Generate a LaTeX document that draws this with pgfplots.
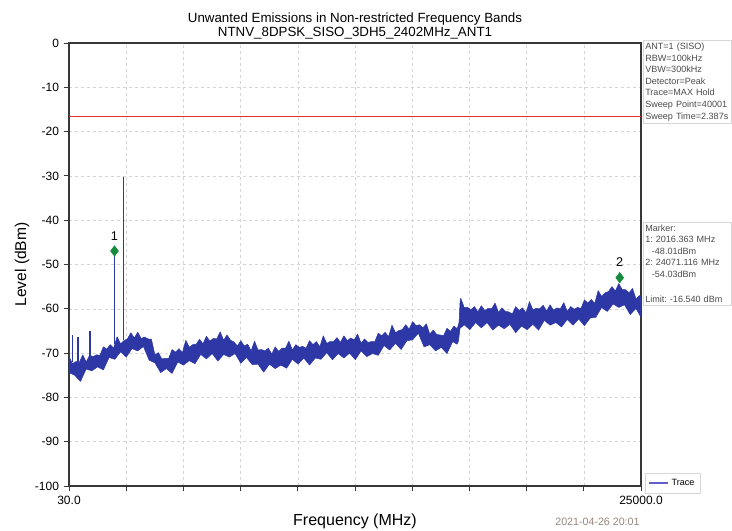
\documentclass[border=0pt]{standalone}
\usepackage{pgfplots}
\pgfplotsset{compat=1.18}
\usepackage{fontspec}
\setmainfont{Liberation Sans}
\frenchspacing

\definecolor{traceblue}{RGB}{45,55,165}
\definecolor{legendline}{RGB}{100,95,200}
\definecolor{limitred}{RGB}{230,45,45}
\definecolor{markgreen}{RGB}{20,140,60}
\definecolor{axisgray}{RGB}{55,55,55}
\definecolor{gridgray}{RGB}{212,212,212}
\definecolor{boxgray}{RGB}{215,215,215}
\definecolor{infogray}{RGB}{75,75,75}
\definecolor{stampgray}{RGB}{150,135,125}

\begin{document}
\begin{tikzpicture}
% page = 732 x 531 px at 0.75pt per px, axis box at px (69..641, 43..486)
\useasboundingbox (-51.75pt,-33.75pt) rectangle (497.25pt,364.5pt);
\begin{axis}[
  at={(0pt,0pt)}, anchor=south west,
  scale only axis, width=429pt, height=332.25pt,
  xmin=30, xmax=25000, ymin=-100, ymax=0,
  clip mode=individual,
  xtick={30,2527,5024,7521,10018,12515,15012,17509,20006,22503,25000},
  xticklabels={30.0,,,,,,,,,,25000.0},
  ytick={-100,-90,...,0},
  tick pos=left, tick align=outside, major tick length=4pt,
  tick style={color=axisgray, line width=0.6pt},
  axis line style={color=axisgray, line width=0.8pt},
  grid=major,
  major grid style={gridgray, dash pattern=on 2.5pt off 2pt, line width=0.4pt},
  ticklabel style={font=\fontsize{9}{10}\selectfont},
  /pgf/number format/assume math mode=true,
  scaled x ticks=false,
  title={Unwanted Emissions in Non-restricted Frequency Bands\\NTNV\_8DPSK\_SISO\_3DH5\_2402MHz\_ANT1},
  title style={align=center, font=\fontsize{10}{10.5}\selectfont, at={(0.5,1)}, anchor=south, yshift=-7pt},
  xlabel={Frequency (MHz)},
  xlabel style={font=\fontsize{12}{13}\selectfont, at={(axis description cs:0.5,-0.079)}, anchor=center},
  ylabel={Level (dBm)},
  ylabel style={font=\fontsize{11.7}{13}\selectfont, at={(axis description cs:-0.082,0.5)}, anchor=center},
  unbounded coords=jump,
  legend style={at={(1.007,0.007)}, anchor=west, draw=boxgray, fill=white,
    font=\fontsize{6.8}{8}\selectfont, inner xsep=2.5pt, inner ysep=2.5pt},
  legend cell align=left,
]

% limit line
\addplot[limitred, line width=0.8pt, forget plot] coordinates {(30,-16.54) (25000,-16.54)};

% noise band of the max hold trace: upper edge left to right, lower edge back
\addplot[draw=traceblue, fill=traceblue, line width=0.4pt, line join=round,
  legend image code/.code={\draw[legendline, line width=1.2pt] (0pt,0pt) -- (14pt,0pt);}]
coordinates {
(30,-70.8) (180,-72.4) (330,-71.9) (480,-72.1) (630,-70.4) (780,-72.0) (930,-70.5) (1080,-70.8)
(1230,-70.4) (1380,-70.5) (1530,-68.6) (1680,-69.1) (1830,-68.1) (1980,-68.9) (2130,-66.3) (2280,-67.9)
(2430,-67.2) (2580,-66.8) (2730,-65.4) (2880,-66.6) (3030,-65.3) (3180,-66.7) (3330,-66.4) (3480,-66.8)
(3630,-66.9) (3780,-70.4) (3930,-69.9) (4080,-71.3) (4230,-71.2) (4380,-71.2) (4530,-69.2) (4680,-69.8)
(4830,-69.0) (4980,-69.9) (5130,-67.1) (5280,-68.7) (5430,-68.1) (5580,-68.0) (5730,-66.9) (5880,-67.9)
(6030,-66.2) (6180,-67.3) (6330,-66.7) (6480,-66.8) (6630,-65.2) (6780,-67.1) (6930,-65.9) (7080,-67.1)
(7230,-67.5) (7380,-68.4) (7530,-67.2) (7680,-68.4) (7830,-68.0) (7980,-69.5) (8130,-67.3) (8280,-69.3)
(8430,-69.2) (8580,-69.5) (8730,-68.9) (8880,-70.2) (9030,-68.6) (9180,-69.6) (9330,-68.9) (9480,-68.9)
(9630,-67.3) (9780,-69.3) (9930,-68.1) (10080,-68.7) (10230,-68.5) (10380,-68.9) (10530,-67.2) (10680,-68.1)
(10830,-67.4) (10980,-68.6) (11130,-66.1) (11280,-67.8) (11430,-67.4) (11580,-67.4) (11730,-66.5) (11880,-67.6)
(12030,-66.1) (12180,-67.2) (12330,-66.6) (12480,-67.0) (12630,-65.7) (12780,-67.8) (12930,-66.8) (13080,-67.6)
(13230,-67.4) (13380,-67.4) (13530,-65.5) (13680,-66.1) (13830,-65.3) (13980,-66.3) (14130,-63.7) (14280,-65.4)
(14430,-64.9) (14580,-64.7) (14730,-63.6) (14880,-64.6) (15030,-62.9) (15180,-63.8) (15330,-63.6) (15480,-64.3)
(15630,-63.4) (15780,-65.7) (15930,-64.8) (16080,-65.8) (16230,-65.9) (16380,-66.1) (16530,-64.4) (16680,-65.1)
(16830,-63.9) (16980,-64.5) (17060,-63.0) (17100,-58.5) (17130,-57.6) (17280,-59.7) (17430,-59.7) (17580,-60.2)
(17730,-59.5) (17880,-60.7) (18030,-59.3) (18180,-60.4) (18330,-59.9) (18480,-60.0) (18630,-58.7) (18780,-60.8)
(18930,-59.8) (19080,-60.6) (19230,-60.7) (19380,-61.2) (19530,-59.5) (19680,-60.4) (19830,-59.8) (19980,-60.9)
(20130,-58.4) (20280,-60.2) (20430,-59.9) (20580,-60.0) (20730,-59.2) (20880,-60.5) (21030,-59.1) (21180,-60.3)
(21330,-59.8) (21480,-60.0) (21630,-58.6) (21780,-60.6) (21930,-59.5) (22080,-60.1) (22230,-59.7) (22380,-59.9)
(22530,-58.0) (22680,-58.7) (22830,-57.9) (22980,-58.8) (23130,-55.9) (23280,-57.2) (23430,-56.4) (23580,-56.1)
(23730,-55.0) (23880,-56.0) (24030,-54.3) (24180,-55.7) (24330,-55.7) (24480,-56.4) (24630,-55.4) (24780,-57.8)
(24930,-57.0) (25000,-57.5)
(25000,-61.9) (24780,-59.9) (24530,-61.3) (24280,-59.1) (24030,-59.7) (23780,-58.9) (23530,-60.6) (23280,-59.7)
(23030,-61.9) (22780,-62.1) (22530,-63.8) (22280,-62.3) (22030,-63.7) (21780,-62.4) (21530,-64.1) (21280,-63.1)
(21030,-63.7) (20780,-62.6) (20530,-64.8) (20280,-63.5) (20030,-64.7) (19780,-63.9) (19530,-65.4) (19280,-63.5)
(19030,-64.5) (18780,-63.7) (18530,-64.8) (18280,-63.1) (18030,-64.3) (17780,-63.1) (17530,-64.7) (17280,-63.6)
(17100,-64.4) (17030,-67.3) (16970,-68.0) (16780,-67.4) (16530,-70.1) (16280,-68.7) (16030,-69.5) (15780,-68.1)
(15530,-68.6) (15280,-65.5) (15030,-67.0) (14780,-67.2) (14530,-69.2) (14280,-67.8) (14030,-69.3) (13780,-68.3)
(13530,-70.5) (13280,-70.1) (13030,-70.8) (12780,-69.5) (12530,-71.5) (12280,-70.0) (12030,-71.1) (11780,-70.1)
(11530,-71.5) (11280,-69.9) (11030,-71.4) (10780,-71.1) (10530,-72.7) (10280,-71.1) (10030,-72.5) (9780,-71.4)
(9530,-73.4) (9280,-72.7) (9030,-73.5) (8780,-72.5) (8530,-74.3) (8280,-72.5) (8030,-72.6) (7780,-71.0)
(7530,-72.3) (7280,-70.1) (7030,-70.9) (6780,-70.3) (6530,-71.8) (6280,-70.1) (6030,-71.3) (5780,-70.3)
(5530,-72.4) (5280,-71.7) (5030,-72.7) (4780,-72.0) (4530,-74.6) (4280,-73.5) (4030,-74.4) (3780,-72.2)
(3530,-71.6) (3280,-68.5) (3030,-69.5) (2780,-69.0) (2530,-70.9) (2280,-69.7) (2030,-71.4) (1780,-71.0)
(1530,-73.8) (1280,-73.1) (1030,-74.0) (780,-73.6) (530,-76.4) (280,-75.0) (30,-74.4)
} -- cycle;
\addlegendentry{Trace}

% narrow spurs standing out of the trace
\addplot[traceblue, line width=1.1pt, forget plot] coordinates {
(45,-74) (45,-60.5) (100,nan)
(191,-72) (191,-66) (300,nan)
(423,-72) (423,-66.4) (600,nan)
(947,-71) (947,-65) (1500,nan)
(2016.363,-68) (2016.363,-48.01) (2200,nan)
(2402,-67) (2402,-30.3)
};

% markers
\addplot[only marks, mark=diamond*, mark size=3.9pt, color=markgreen,
  mark options={yshift=3.5pt}, forget plot,
  point meta=explicit symbolic, nodes near coords,
  nodes near coords style={font=\fontsize{9.5}{10}\selectfont, text=black, anchor=south, inner sep=0.5pt, yshift=7.5pt}]
coordinates {(2016.363,-48.01) [1] (24071.116,-54.03) [2]};

% settings and marker readout at the right
\node[draw=boxgray, anchor=north west, align=left, text width=63pt, inner xsep=1.5pt, inner ysep=2pt,
  font=\fontsize{6.8}{8.7}\selectfont, text=infogray]
  at (axis description cs:1.0035,1.0068)
  {ANT=1 (SISO)\\RBW=100kHz\\VBW=300kHz\\Detector=Peak\\Trace=MAX Hold\\Sweep Point=40001\\Sweep Time=2.387s};
\node[draw=boxgray, anchor=north west, align=left, text width=63pt, inner xsep=1.5pt, inner ysep=2pt,
  font=\fontsize{6.8}{8.6}\selectfont, text=infogray]
  at (axis description cs:1.0035,0.596)
  {Marker:\\1: 2016.363 MHz\\\hspace*{5pt}-48.01dBm\\2: 24071.116 MHz\\\hspace*{5pt}-54.03dBm\\[10pt]Limit: -16.540 dBm};

% time stamp
\node[anchor=east, inner sep=0pt, font=\fontsize{8}{9}\selectfont, text=stampgray]
  at (axis description cs:0.998,-0.081) {2021-04-26 20:01};
\end{axis}
\end{tikzpicture}
\end{document}
